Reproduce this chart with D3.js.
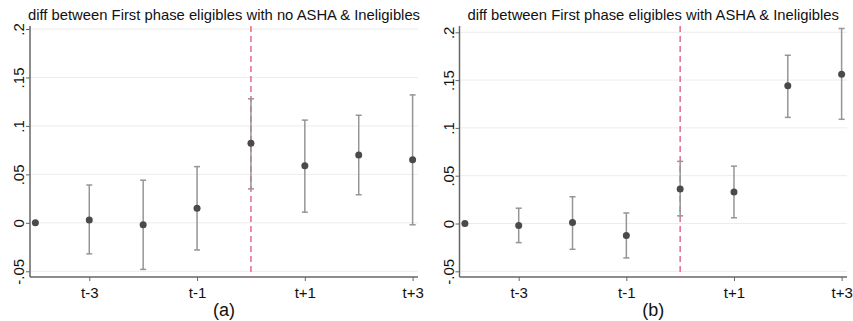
<!DOCTYPE html>
<html>
<head>
<meta charset="utf-8">
<script src="https://cdn.jsdelivr.net/npm/d3@7"></script>
<style>
  html, body { margin: 0; padding: 0; background: #fff; }
  svg { display: block; font-family: "Liberation Sans", Arial, sans-serif; }
</style>
</head>
<body>
<svg id="chart" width="853" height="321"></svg>
<script>
// ---- data ----
const periods = [-4, -3, -2, -1, 0, 1, 2, 3];
const xTickValues = [-3, -1, 1, 3];
const xTickLabels = ["t-3", "t-1", "t+1", "t+3"];
const yTickValues = [-0.05, 0, 0.05, 0.1, 0.15, 0.2];
const yTickLabels = ["-.05", "0", ".05", ".1", ".15", ".2"];

const titleA = "diff between First phase eligibles with no ASHA & Ineligibles";
const estA   = [0, 0.003, -0.002, 0.015, 0.082, 0.059, 0.070, 0.065];
const lowA   = [null, -0.032, -0.048, -0.028, 0.035, 0.011, 0.029, -0.002];
const highA  = [null, 0.039, 0.044, 0.058, 0.128, 0.106, 0.111, 0.132];

const titleB = "diff between First phase eligibles with ASHA & Ineligibles";
const estB   = [0, -0.002, 0.001, -0.0125, 0.036, 0.033, 0.144, 0.156];
const lowB   = [null, -0.020, -0.027, -0.036, 0.008, 0.006, 0.111, 0.109];
const highB  = [null, 0.016, 0.028, 0.011, 0.065, 0.060, 0.176, 0.204];

const svg = d3.select("#chart");

function panel(cfg) {
  const g = svg.append("g");
  const x = d3.scaleLinear().domain([-4.1, 3.1]).range([cfg.left, cfg.right]);
  const y = d3.scaleLinear().domain([-0.05, 0.2]).range([cfg.y0, cfg.y1]);

  // gridlines
  g.selectAll("line.grid").data(yTickValues).enter().append("line")
    .attr("x1", cfg.left).attr("x2", cfg.right)
    .attr("y1", d => y(d)).attr("y2", d => y(d))
    .attr("stroke", "#ececec").attr("stroke-width", 1);

  // y axis
  const yAxis = d3.axisLeft(y).tickValues(yTickValues)
    .tickFormat((d, i) => yTickLabels[i]).tickSize(4).tickPadding(3);
  const ya = g.append("g").attr("transform", `translate(${cfg.left},0)`).call(yAxis);
  ya.select(".domain").attr("d", `M0,${cfg.top}V${cfg.bottom}`).attr("stroke", "#666").attr("stroke-width", 1.5);
  ya.selectAll(".tick line").attr("stroke", "#666");
  ya.selectAll(".tick text")
    .attr("transform", "rotate(-90)")
    .attr("x", 0).attr("y", -6).attr("dy", 0)
    .attr("text-anchor", "middle")
    .attr("fill", "#111").style("font-size", "15px");

  // x axis
  const xAxis = d3.axisBottom(x).tickValues(xTickValues)
    .tickFormat((d, i) => xTickLabels[i]).tickSize(4).tickPadding(6);
  const xa = g.append("g").attr("transform", `translate(0,${cfg.bottom})`).call(xAxis);
  xa.select(".domain").attr("d", `M${cfg.left},0H${cfg.right}`).attr("stroke", "#666").attr("stroke-width", 1.5);
  xa.selectAll(".tick line").attr("stroke", "#666");
  xa.selectAll(".tick text").attr("fill", "#111").style("font-size", "15px");

  // dashed vertical line at period 0
  g.append("line")
    .attr("x1", x(0)).attr("x2", x(0))
    .attr("y1", cfg.top).attr("y2", cfg.bottom)
    .attr("stroke", "#e46a8c").attr("stroke-width", 1.5)
    .attr("stroke-dasharray", "6,4");

  const rows = periods.map((p, i) => ({p, est: cfg.est[i], lo: cfg.low[i], hi: cfg.high[i]}));
  const ci = rows.filter(d => d.lo !== null);

  // error bars
  const eb = g.selectAll("g.eb").data(ci).enter().append("g")
    .attr("stroke", "#959595").attr("stroke-width", 1.5);
  eb.append("line").attr("x1", d => x(d.p)).attr("x2", d => x(d.p))
    .attr("y1", d => y(d.lo)).attr("y2", d => y(d.hi));
  eb.append("line").attr("x1", d => x(d.p) - 3).attr("x2", d => x(d.p) + 3)
    .attr("y1", d => y(d.lo)).attr("y2", d => y(d.lo));
  eb.append("line").attr("x1", d => x(d.p) - 3).attr("x2", d => x(d.p) + 3)
    .attr("y1", d => y(d.hi)).attr("y2", d => y(d.hi));

  // points
  g.selectAll("circle.pt").data(rows).enter().append("circle")
    .attr("cx", d => x(d.p)).attr("cy", d => y(d.est)).attr("r", 3.5)
    .attr("fill", "#4a4a4a");

  // title
  g.append("text")
    .attr("x", (cfg.left + cfg.right) / 2).attr("y", 20)
    .attr("text-anchor", "middle").attr("fill", "#111")
    .style("font-size", "14.8px").text(cfg.title);

  // caption
  g.append("text")
    .attr("x", (cfg.left + cfg.right) / 2).attr("y", 316)
    .attr("text-anchor", "middle").attr("fill", "#111")
    .style("font-size", "18px").text(cfg.caption);
}

panel({left: 30, right: 418, top: 26, bottom: 277, y0: 271.3, y1: 29, est: estA, low: lowA, high: highA,
       title: titleA, caption: "(a)"});
panel({left: 459.5, right: 847, top: 26, bottom: 277, y0: 271.3, y1: 32.3, est: estB, low: lowB, high: highB,
       title: titleB, caption: "(b)"});
</script>
</body>
</html>
